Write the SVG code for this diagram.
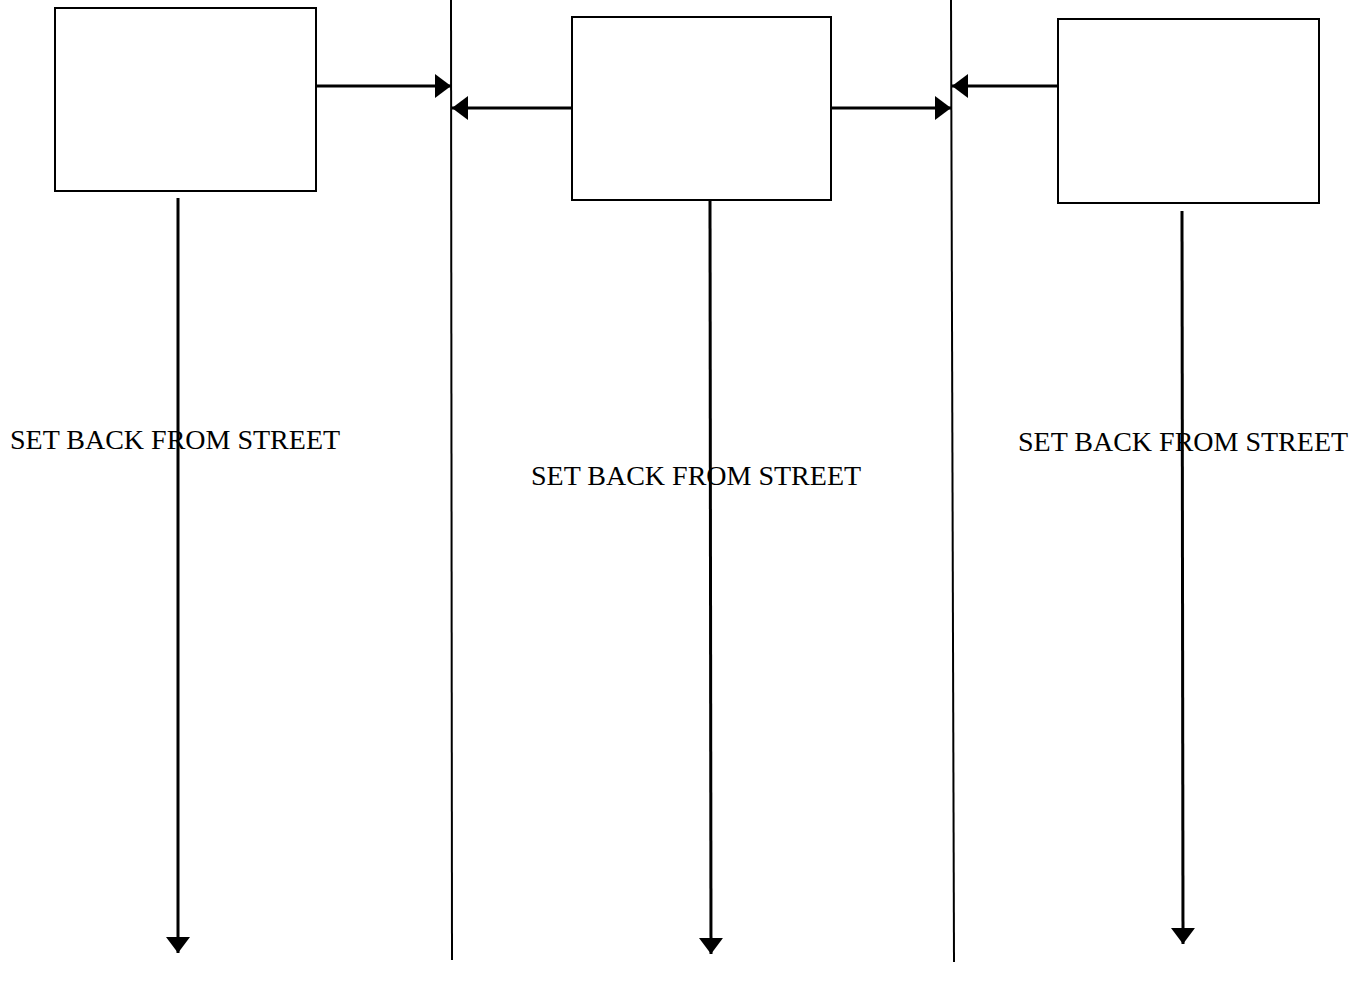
<svg xmlns="http://www.w3.org/2000/svg" width="1372" height="996" viewBox="0 0 1372 996">
  <style>
    .box { fill: #fff; stroke: #000; stroke-width: 2; }
    .divider { stroke: #000; stroke-width: 2; fill: none; }
    .conn { stroke: #000; stroke-width: 3; fill: none; }
    .label { font-family: "Liberation Serif", "Times New Roman", serif; font-size: 28px; fill: #000; }
  </style>
  <defs>
    <marker id="head" markerUnits="userSpaceOnUse" markerWidth="16" markerHeight="24" refX="16" refY="12" orient="auto">
      <path d="M0,0 L16,12 L0,24 Z" fill="#000"/>
    </marker>
  </defs>

  <!-- lot dividers -->
  <g id="dividers">
    <line class="divider" x1="451" y1="0" x2="452" y2="960"/>
    <line class="divider" x1="951" y1="0" x2="954" y2="962"/>
  </g>

  <!-- houses -->
  <g id="house-left">
    <rect class="box" x="55" y="8" width="261" height="183"/>
  </g>
  <g id="house-middle">
    <rect class="box" x="572" y="17" width="259" height="183"/>
  </g>
  <g id="house-right">
    <rect class="box" x="1058" y="19" width="261" height="184"/>
  </g>

  <!-- connectors -->
  <g id="connectors">
    <line class="conn" x1="316" y1="86" x2="451" y2="86" marker-end="url(#head)"/>
    <line class="conn" x1="572" y1="108" x2="452" y2="108" marker-end="url(#head)"/>
    <line class="conn" x1="831" y1="108" x2="951" y2="108" marker-end="url(#head)"/>
    <line class="conn" x1="1058" y1="86" x2="952" y2="86" marker-end="url(#head)"/>
    <line class="conn" x1="178" y1="198" x2="178" y2="953" marker-end="url(#head)"/>
    <line class="conn" x1="710" y1="200" x2="711" y2="954" marker-end="url(#head)"/>
    <line class="conn" x1="1182" y1="211" x2="1183" y2="944" marker-end="url(#head)"/>
  </g>

  <!-- setback labels -->
  <g id="labels">
    <text class="label" x="10" y="449">SET BACK FROM STREET</text>
    <text class="label" x="531" y="485">SET BACK FROM STREET</text>
    <text class="label" x="1018" y="451">SET BACK FROM STREET</text>
  </g>
</svg>
